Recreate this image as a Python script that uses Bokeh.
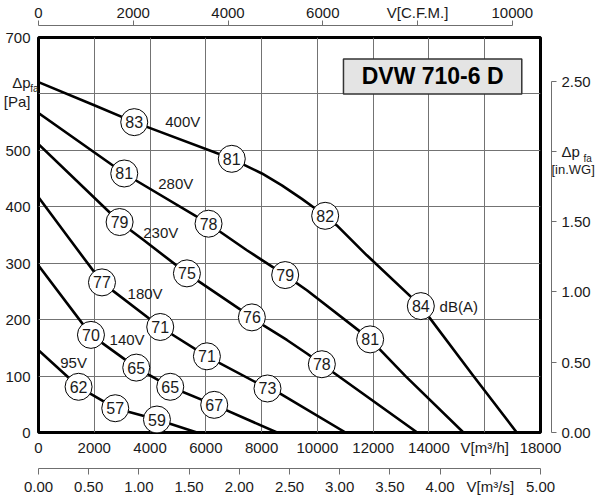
from bokeh.plotting import figure
from bokeh.models import Range1d, LinearAxis, FixedTicker, Label, BoxAnnotation
from bokeh.embed import file_html
from bokeh.resources import INLINE
from bokeh.core.properties import value

FONT = "Liberation Sans"
TXT = "#1a1a1a"
AXC = "#6f6f6f"

# ---------------- axis ticks and labels ----------------
flow_ticks = [0, 2000, 4000, 6000, 8000, 10000, 12000, 14000, 16000, 18000]
flow_labels = ["0", "2000", "4000", "6000", "8000", "10000", "12000", "14000", "V[m³/h]", "18000"]
pa_ticks = [0, 100, 200, 300, 400, 500, 600, 700]
pa_labels = ["0", "100", "200", "300", "400", "500", "", "700"]
cfm_ticks = [0, 2000, 4000, 6000, 8000, 10000]
cfm_labels = ["0", "2000", "4000", "6000", "V[C.F.M.]", "10000"]
inwg_ticks = [0, 0.5, 1.0, 1.5, 2.0, 2.5]
inwg_labels = ["0.00", "0.50", "1.00", "1.50", "Δp", "2.50"]
m3s_ticks = [0, 0.5, 1.0, 1.5, 2.0, 2.5, 3.0, 3.5, 4.0, 4.5, 5.0]
m3s_labels = ["0.00", "0.50", "1.00", "1.50", "2.00", "2.50", "3.00", "3.50", "4.00", "V[m³/s]", "5.00"]

# axis-title pieces, placed at pressure levels [Pa]
pa_title_levels = [619.4, 586.6]
pa_title_texts = ["Δp", "[Pa]"]
pa_sub_levels = [609.6]
pa_sub_texts = ["fa"]
wg_sub_levels = [484.7]
wg_sub_texts = ["fa"]
wg_unit_levels = [465.2]
wg_unit_texts = ["[in.WG]"]

M3H_PER_CFM = 1.69901
PA_PER_INWG = 249.089
M3H_PER_M3S = 3600.0

# ---------------- fan curves (V [m3/h], dp [Pa]) ----------------
v400_q = [0, 2000, 3433, 6930, 8010, 8727, 9444, 9921, 10279, 10698, 11773, 13709, 15595, 17149]
v400_p = [621, 580, 550, 485, 459, 438, 414, 397, 384, 367, 314, 224, 100, 0]
v280_q = [0, 3075, 6097, 7472, 8845, 9623, 11892, 13160, 15236]
v280_p = [566, 459, 370, 323, 279, 252, 165, 100, 0]
v230_q = [0, 2908, 3767, 5322, 7651, 8068, 8906, 9623, 10160, 13580]
v230_p = [511, 373, 341, 282, 204, 190, 164, 140, 121, 0]
v180_q = [0, 1140, 2276, 4365, 6039, 8211, 8666, 11010]
v180_p = [417, 341, 266, 187, 135, 78, 69, 0]
v140_q = [0, 1881, 3505, 4724, 6301, 8553]
v140_p = [296, 173, 115, 81, 49, 0]
v95_q = [0, 1437, 2752, 4247, 5681]
v95_p = [146, 81, 43, 23, 0]

# sound level markers on the curves: dB(A)
c400_q = [3433, 6930, 10279, 13709]
c400_p = [550, 485, 384, 224]
c400_db = [83, 81, 82, 84]
c280_q = [3075, 6097, 8845, 11892]
c280_p = [459, 370, 279, 165]
c280_db = [81, 78, 79, 81]
c230_q = [2908, 5322, 7651, 10160]
c230_p = [373, 282, 204, 121]
c230_db = [79, 75, 76, 78]
c180_q = [2276, 4365, 6039, 8211]
c180_p = [266, 187, 135, 78]
c180_db = [77, 71, 71, 73]
c140_q = [1881, 3505, 4724, 6301]
c140_p = [173, 115, 81, 49]
c140_db = [70, 65, 65, 67]
c95_q = [1437, 2752, 4247]
c95_p = [81, 43, 23]
c95_db = [62, 57, 59]

voltage_names = ["400V", "280V", "230V", "180V", "140V", "95V"]
voltage_label_q = [4545, 4294, 3757, 3194, 2548, 781]
voltage_label_p = [551, 441, 355, 246, 165, 124]

curves = [(v400_q, v400_p), (v280_q, v280_p), (v230_q, v230_p),
          (v180_q, v180_p), (v140_q, v140_p), (v95_q, v95_p)]
markers = [(c400_q, c400_p, c400_db), (c280_q, c280_p, c280_db), (c230_q, c230_p, c230_db),
           (c180_q, c180_p, c180_db), (c140_q, c140_p, c140_db), (c95_q, c95_p, c95_db)]

# ---------------- figure ----------------
p = figure(frame_width=502, frame_height=395,
           x_range=Range1d(0, 18000), y_range=Range1d(0, 700),
           min_border_left=38, min_border_right=59, min_border_top=37, min_border_bottom=66,
           output_backend="svg", toolbar_location=None)
p.background_fill_color = "white"
p.border_fill_color = "white"
p.outline_line_color = "black"
p.outline_line_width = 3

p.extra_x_ranges = {"cfm": Range1d(0, 18000 / M3H_PER_CFM), "m3s": Range1d(0, 18000 / M3H_PER_M3S)}
p.extra_y_ranges = {"inwg": Range1d(0, 700 / PA_PER_INWG)}


def style_axis(ax, size="15px"):
    ax.major_label_text_font = FONT
    ax.major_label_text_font_size = size
    ax.major_label_text_color = TXT
    ax.minor_tick_line_color = None
    ax.minor_tick_out = 0
    ax.minor_tick_in = 0
    ax.major_tick_in = 0


def label_axis(ticks, labels, size, standoff, **kw):
    # an axis that only shows text (no line, no tick marks)
    ax = LinearAxis(ticker=FixedTicker(ticks=ticks),
                    major_label_overrides=dict(zip(ticks, labels)), **kw)
    style_axis(ax, size)
    ax.axis_line_color = None
    ax.major_tick_line_color = None
    ax.major_tick_out = 0
    ax.major_label_standoff = standoff
    return ax


def spacer(tick, gap, **kw):
    # an empty axis that only reserves room between the frame and the next axis
    return LinearAxis(ticker=FixedTicker(ticks=[tick]), major_label_overrides={tick: " "},
                      major_tick_out=gap, major_tick_in=0,
                      axis_line_color="white", axis_line_alpha=0.01,
                      major_tick_line_color="white", major_tick_line_alpha=0.01,
                      minor_tick_line_color=None, major_label_standoff=0,
                      major_label_text_font_size="1px", major_label_text_alpha=0.01, **kw)


# ---- bottom: m3/h (main) then m3/s ----
xa = p.xaxis[0]
xa.ticker = FixedTicker(ticks=flow_ticks)
xa.major_label_overrides = dict(zip(flow_ticks, flow_labels))
style_axis(xa)
xa.axis_line_color = None
xa.major_tick_line_color = None
xa.major_tick_out = 0
xa.major_label_standoff = 6

ms_ax = LinearAxis(x_range_name="m3s", ticker=FixedTicker(ticks=m3s_ticks),
                   major_label_overrides=dict(zip(m3s_ticks, m3s_labels)),
                   bounds=(0, m3s_ticks[-1]))
style_axis(ms_ax)
ms_ax.axis_line_color = AXC
ms_ax.major_tick_line_color = AXC
ms_ax.major_tick_out = 6
ms_ax.major_label_standoff = 3
p.below = [xa, spacer(4.75, 6, x_range_name="m3s"), ms_ax]

# ---- left: Pa ----
ya = p.yaxis[0]
ya.ticker = FixedTicker(ticks=pa_ticks + pa_title_levels)
ya.major_label_overrides = dict(zip(pa_ticks + pa_title_levels, pa_labels + pa_title_texts))
style_axis(ya)
ya.axis_line_color = None
ya.major_tick_line_color = None
ya.major_tick_out = 0
ya.major_label_standoff = -3
fa_left = label_axis(pa_sub_levels, pa_sub_texts, "10px", 0)
p.left = [fa_left, ya]

p.xgrid.ticker = FixedTicker(ticks=flow_ticks)
p.ygrid.ticker = FixedTicker(ticks=pa_ticks)
p.grid.grid_line_color = "#737373"
p.grid.grid_line_width = 1

# ---- top: C.F.M. ----
cfm_ax = LinearAxis(x_range_name="cfm", ticker=FixedTicker(ticks=cfm_ticks),
                    major_label_overrides=dict(zip(cfm_ticks, cfm_labels)),
                    bounds=(0, cfm_ticks[-1]))
style_axis(cfm_ax)
cfm_ax.axis_line_color = AXC
cfm_ax.major_tick_line_color = AXC
cfm_ax.major_tick_out = 5
cfm_ax.major_label_standoff = 0
p.above = [spacer(9000, 8, x_range_name="cfm"), cfm_ax]

# ---- right: in.WG ----
wg_ax = LinearAxis(y_range_name="inwg", ticker=FixedTicker(ticks=inwg_ticks),
                   major_label_overrides=dict(zip(inwg_ticks, inwg_labels)),
                   bounds=(0, inwg_ticks[-1]))
style_axis(wg_ax)
wg_ax.axis_line_color = AXC
wg_ax.major_tick_line_color = AXC
wg_ax.major_tick_out = 5
wg_ax.major_label_standoff = 5
fa_right = label_axis(wg_sub_levels, wg_sub_texts, "10px", -10)
unit_right = label_axis(wg_unit_levels, wg_unit_texts, "13px", -43)
p.right = [spacer(2.75, 8, y_range_name="inwg"), wg_ax, fa_right, unit_right]

# ---------------- curves, markers ----------------
for q, dp in curves:
    p.line(q, dp, line_color="black", line_width=2.6, line_join="round")

for q, dp, db in markers:
    p.scatter(q, dp, marker="circle", size=27, fill_color="white",
              line_color="black", line_width=1)
    p.text(q, dp, text=[str(v) for v in db], text_align="center", text_baseline="middle",
           text_font=value(FONT), text_font_size="16px", text_color=TXT)

p.text(voltage_label_q, voltage_label_p, text=voltage_names, text_align="left",
       text_baseline="middle", text_font=value(FONT), text_font_size="15px", text_color=TXT)
p.text([14380], [224], text=["dB(A)"], text_align="left", text_baseline="middle",
       text_font=value(FONT), text_font_size="15px", text_color=TXT)

# ---------------- title box ----------------
p.add_layout(BoxAnnotation(left=10935, right=17329, top=662, bottom=600,
                           fill_color="#e4e4e4", fill_alpha=1,
                           line_color="#333333", line_width=1.5, line_alpha=1))
p.add_layout(Label(x=14132, y=631, text="DVW 710-6 D", text_align="center",
                   text_baseline="middle", text_font=FONT, text_font_style="bold",
                   text_font_size="23px", text_color="black"))

open("out.html", "w").write(file_html(p, INLINE))
